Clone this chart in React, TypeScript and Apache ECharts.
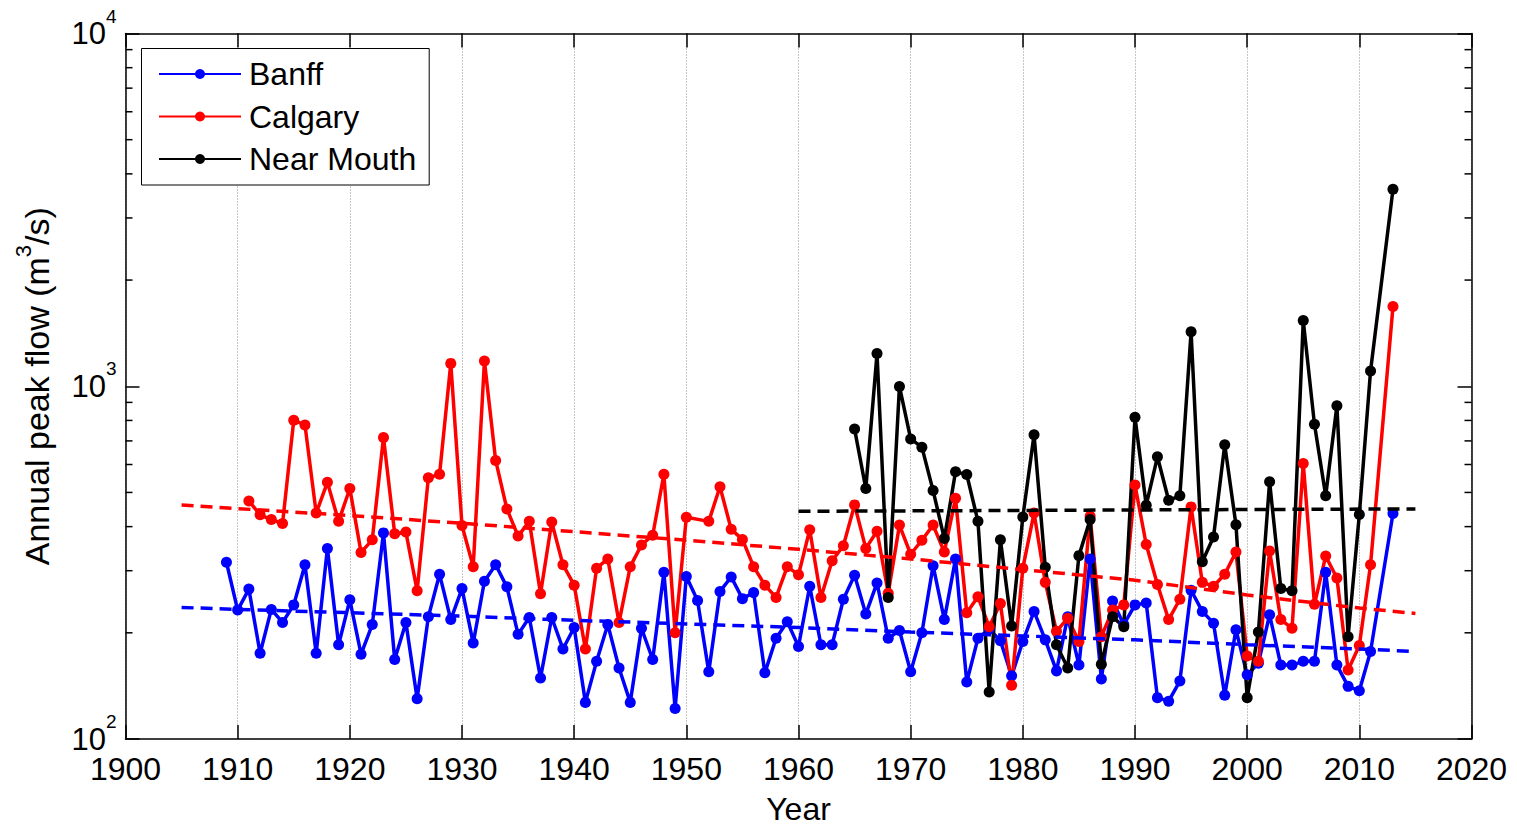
import React, { useEffect, useRef } from 'react';
import * as echarts from 'echarts';

// ---------- data ----------
const banffYears = [
  1909, 1910, 1911, 1912, 1913, 1914, 1915, 1916, 1917, 1918, 1919, 1920, 1921, 1922, 1923, 1924, 1925, 1926, 1927, 1928, 1929,
  1930, 1931, 1932, 1933, 1934, 1935, 1936, 1937, 1938, 1939, 1940, 1941, 1942, 1943, 1944, 1945, 1946, 1947, 1948, 1949,
  1950, 1951, 1952, 1953, 1954, 1955, 1956, 1957, 1958, 1959, 1960, 1961, 1962, 1963, 1964, 1965, 1966, 1967, 1968, 1969,
  1970, 1971, 1972, 1973, 1974, 1975, 1976, 1977, 1978, 1979, 1980, 1981, 1982, 1983, 1984, 1985, 1986, 1987, 1988, 1989,
  1990, 1991, 1992, 1993, 1994, 1995, 1996, 1997, 1998, 1999, 2000, 2001, 2002, 2003, 2004, 2005, 2006, 2007, 2008, 2009,
  2010, 2011, 2013,
];
const banffFlow = [
  317, 232, 266, 175, 233, 214, 240, 312, 175, 347, 185, 248, 174, 211, 384, 168, 214, 130, 222, 293, 218,
  267, 187, 280, 312, 270, 198, 221, 149, 221, 180, 207, 127, 166, 211, 159, 127, 206, 168, 297, 122,
  289, 247, 155, 262, 288, 250, 260, 154, 193, 215, 183, 271, 185, 185, 249, 291, 226, 277, 193, 203,
  155, 200, 310, 218, 324, 145, 193, 205, 190, 151, 189, 230, 191, 156, 222, 162, 324, 148, 246, 211,
  240, 243, 131, 128, 146, 264, 230, 213, 133, 204, 152, 164, 225, 162, 162, 166, 166, 297, 162, 141,
  137, 177, 436,
];

const calgaryYears = [
  1911, 1912, 1913, 1914, 1915, 1916, 1917, 1918, 1919, 1920, 1921, 1922, 1923, 1924, 1925, 1926, 1927, 1928, 1929,
  1930, 1931, 1932, 1933, 1934, 1935, 1936, 1937, 1938, 1939, 1940, 1941, 1942, 1943, 1944, 1945, 1946, 1947, 1948, 1949,
  1950, 1952, 1953, 1954, 1955, 1956, 1957, 1958, 1959, 1960, 1961, 1962, 1963, 1964, 1965, 1966, 1967, 1968, 1969,
  1970, 1971, 1972, 1973, 1974, 1975, 1976, 1977, 1978, 1979, 1980, 1981, 1982, 1983, 1984, 1985, 1986, 1987, 1988, 1989,
  1990, 1991, 1992, 1993, 1994, 1995, 1996, 1997, 1998, 1999, 2000, 2001, 2002, 2003, 2004, 2005, 2006, 2007, 2008, 2009,
  2010, 2011, 2013,
];
const calgaryFlow = [
  473, 432, 419, 408, 801, 777, 437, 534, 414, 513, 338, 367, 716, 382, 386, 263, 550, 563, 1161,
  403, 308, 1179, 616, 449, 376, 414, 258, 412, 312, 273, 180, 305, 324, 214, 308, 355, 378, 563, 200,
  425, 414, 519, 393, 368, 308, 273, 252, 308, 292, 392, 252, 320, 353, 461, 347, 388, 259, 404,
  334, 366, 404, 339, 481, 228, 253, 208, 242, 142, 305, 437, 278, 202, 220, 189, 428, 195, 232, 240,
  525, 356, 274, 218, 249, 455, 278, 271, 293, 339, 172, 166, 341, 218, 206, 604, 241, 330, 286, 157,
  184, 312, 1684,
];

const mouthYears = [
  1965, 1966, 1967, 1968, 1969, 1970, 1971, 1972, 1973, 1974, 1975, 1976, 1977, 1978, 1979, 1980, 1981, 1982, 1983, 1984,
  1985, 1986, 1987, 1988, 1989, 1990, 1991, 1992, 1993, 1994, 1995, 1996, 1997, 1998, 1999, 2000, 2001, 2002, 2003, 2004,
  2005, 2006, 2007, 2008, 2009, 2010, 2011, 2013,
];
const mouthFlow = [
  756, 513, 1238, 252, 999, 709, 672, 506, 370, 572, 562, 414, 136, 367, 209, 426, 729, 307, 185, 159,
  331, 419, 163, 222, 208, 817, 460, 631, 475, 489, 1427, 318, 374, 683, 405, 131, 201, 536, 267, 263,
  1535, 780, 489, 881, 195, 433, 1105, 3616,
];

// dashed trend lines, read at each decade
const trendYears = [1905, 1910, 1920, 1930, 1940, 1950, 1960, 1970, 1980, 1990, 2000, 2010, 2015];
const banffTrend = [236, 233, 228, 223, 217, 212, 207, 201, 196, 191, 185, 180, 177];
const calgaryTrend = [461, 450, 430, 409, 387, 366, 345, 324, 302, 282, 256, 235, 227];
const mouthTrendYears = [1960, 1990, 2015];
const mouthTrend = [442, 446, 449];

// log-axis minor tick values
const minorTickValues = [200, 300, 400, 500, 600, 700, 800, 900, 2000, 3000, 4000, 5000, 6000, 7000, 8000, 9000];

const seriesNames = ['Banff', 'Calgary', 'Near Mouth'];
const colors = ['#0000ff', '#ff0000', '#000000'];

const FONT = "'Liberation Sans', Arial, Helvetica, sans-serif";

const pairs = (xs: number[], ys: number[]) => xs.map((x, i) => [x, ys[i]]);

export default function App() {
  const ref = useRef<HTMLDivElement>(null);

  useEffect(() => {
    if (!ref.current) return;
    const chart = echarts.init(ref.current, undefined, { renderer: 'svg' });

    const yLabelRich = {
      b: { fontSize: 31, fontFamily: FONT, color: '#000', verticalAlign: 'middle' },
      s: { fontSize: 19, fontFamily: FONT, color: '#000', verticalAlign: 'middle', padding: [0, 0, 35, 0] },
    };

    const dataSeries = seriesNames.map((name, i) => ({
      name,
      type: 'line',
      xAxisIndex: 0,
      yAxisIndex: 0,
      data: pairs([banffYears, calgaryYears, mouthYears][i], [banffFlow, calgaryFlow, mouthFlow][i]),
      symbol: 'circle',
      symbolSize: 11,
      showSymbol: true,
      showAllSymbol: true,
      lineStyle: { color: colors[i], width: 3.5 },
      itemStyle: { color: colors[i] },
      z: 3,
    }));

    const trendSeries = [
      { data: pairs(trendYears, banffTrend), color: colors[0] },
      { data: pairs(trendYears, calgaryTrend), color: colors[1] },
      { data: pairs(mouthTrendYears, mouthTrend), color: colors[2] },
    ].map((t) => ({
      type: 'line',
      xAxisIndex: 0,
      yAxisIndex: 0,
      data: t.data,
      showSymbol: false,
      symbol: 'none',
      lineStyle: { color: t.color, width: 3.5, type: [12, 7] },
      z: 4,
      silent: true,
    }));

    const option: any = {
      animation: false,
      backgroundColor: '#ffffff',
      textStyle: { fontFamily: FONT },
      grid: { left: 125.5, top: 33.5, width: 1346, height: 715.5, containLabel: false },
      legend: {
        data: seriesNames,
        orient: 'vertical',
        left: 141.5,
        top: 48.5,
        padding: [9.5, 13, 10, 16.5],
        itemWidth: 82,
        itemHeight: 12.5,
        itemGap: 10.5,
        backgroundColor: '#ffffff',
        borderColor: '#000000',
        borderWidth: 1,
        borderRadius: 0,
        selectedMode: false,
        textStyle: { fontSize: 32, fontFamily: FONT, color: '#000', padding: [0, 0, 0, 3] },
      },
      xAxis: [
        {
          type: 'value',
          position: 'bottom',
          min: 1900,
          max: 2020,
          interval: 10,
          name: 'Year',
          nameLocation: 'middle',
          nameGap: 54,
          nameTextStyle: { fontSize: 32, fontFamily: FONT, color: '#000' },
          axisLine: { show: true, onZero: false, lineStyle: { color: '#000', width: 1.5 } },
          axisTick: { show: true, inside: true, length: 14, lineStyle: { color: '#000', width: 1.5 } },
          axisLabel: {
            show: true,
            margin: 14,
            fontSize: 32,
            fontFamily: FONT,
            color: '#000',
            formatter: (v: number) => String(v),
          },
          splitLine: { show: true, lineStyle: { color: '#8c8c8c', width: 1, type: [1, 2] } },
        },
        {
          type: 'value',
          position: 'top',
          min: 1900,
          max: 2020,
          interval: 10,
          axisLine: { show: true, onZero: false, lineStyle: { color: '#000', width: 1.5 } },
          axisTick: { show: true, inside: true, length: 14, lineStyle: { color: '#000', width: 1.5 } },
          axisLabel: { show: false },
          splitLine: { show: false },
        },
      ],
      yAxis: [
        {
          type: 'log',
          logBase: 10,
          position: 'left',
          min: 100,
          max: 10000,
          splitNumber: 2,
          name: '{b|Annual peak flow (m}{s|3}{b|/s)}',
          nameLocation: 'middle',
          nameGap: 64,
          nameTextStyle: {
            fontSize: 34,
            fontFamily: FONT,
            color: '#000',
            rich: {
              b: { fontSize: 34, fontFamily: FONT, color: '#000', verticalAlign: 'middle' },
              s: { fontSize: 22, fontFamily: FONT, color: '#000', verticalAlign: 'middle', padding: [0, 0, 27, 0] },
            },
          },
          axisLine: { show: true, onZero: false, lineStyle: { color: '#000', width: 1.5 } },
          axisTick: { show: true, inside: true, length: 14, lineStyle: { color: '#000', width: 1.5 } },
          axisLabel: {
            show: true,
            margin: 9,
            formatter: (v: number) => `{b|10}{s|${Math.round(Math.log10(v))}}`,
            rich: yLabelRich,
          },
          splitLine: { show: false },
        },
        {
          type: 'log',
          logBase: 10,
          position: 'right',
          min: 100,
          max: 10000,
          splitNumber: 2,
          axisLine: { show: true, onZero: false, lineStyle: { color: '#000', width: 1.5 } },
          axisTick: { show: true, inside: true, length: 14, lineStyle: { color: '#000', width: 1.5 } },
          axisLabel: { show: false },
          splitLine: { show: false },
        },
      ],
      series: [
        {
          type: 'custom',
          xAxisIndex: 0,
          yAxisIndex: 0,
          silent: true,
          clip: false,
          z: 2,
          data: minorTickValues.map((v) => [1900, v]),
          renderItem: (params: any, api: any) => {
            const cs = params.coordSys;
            const y = api.coord([api.value(0), api.value(1)])[1];
            const st = { stroke: '#000', lineWidth: 1.5 };
            return {
              type: 'group',
              children: [
                { type: 'line', shape: { x1: cs.x, y1: y, x2: cs.x + 7, y2: y }, style: st },
                { type: 'line', shape: { x1: cs.x + cs.width - 7, y1: y, x2: cs.x + cs.width, y2: y }, style: st },
              ],
            };
          },
        },
        ...dataSeries,
        ...trendSeries,
      ],
    };

    chart.setOption(option);
    return () => chart.dispose();
  }, []);

  return (
    <div
      ref={ref}
      style={{ position: 'absolute', left: 0, top: 0, width: 1517, height: 830, background: '#fff' }}
    />
  );
}
